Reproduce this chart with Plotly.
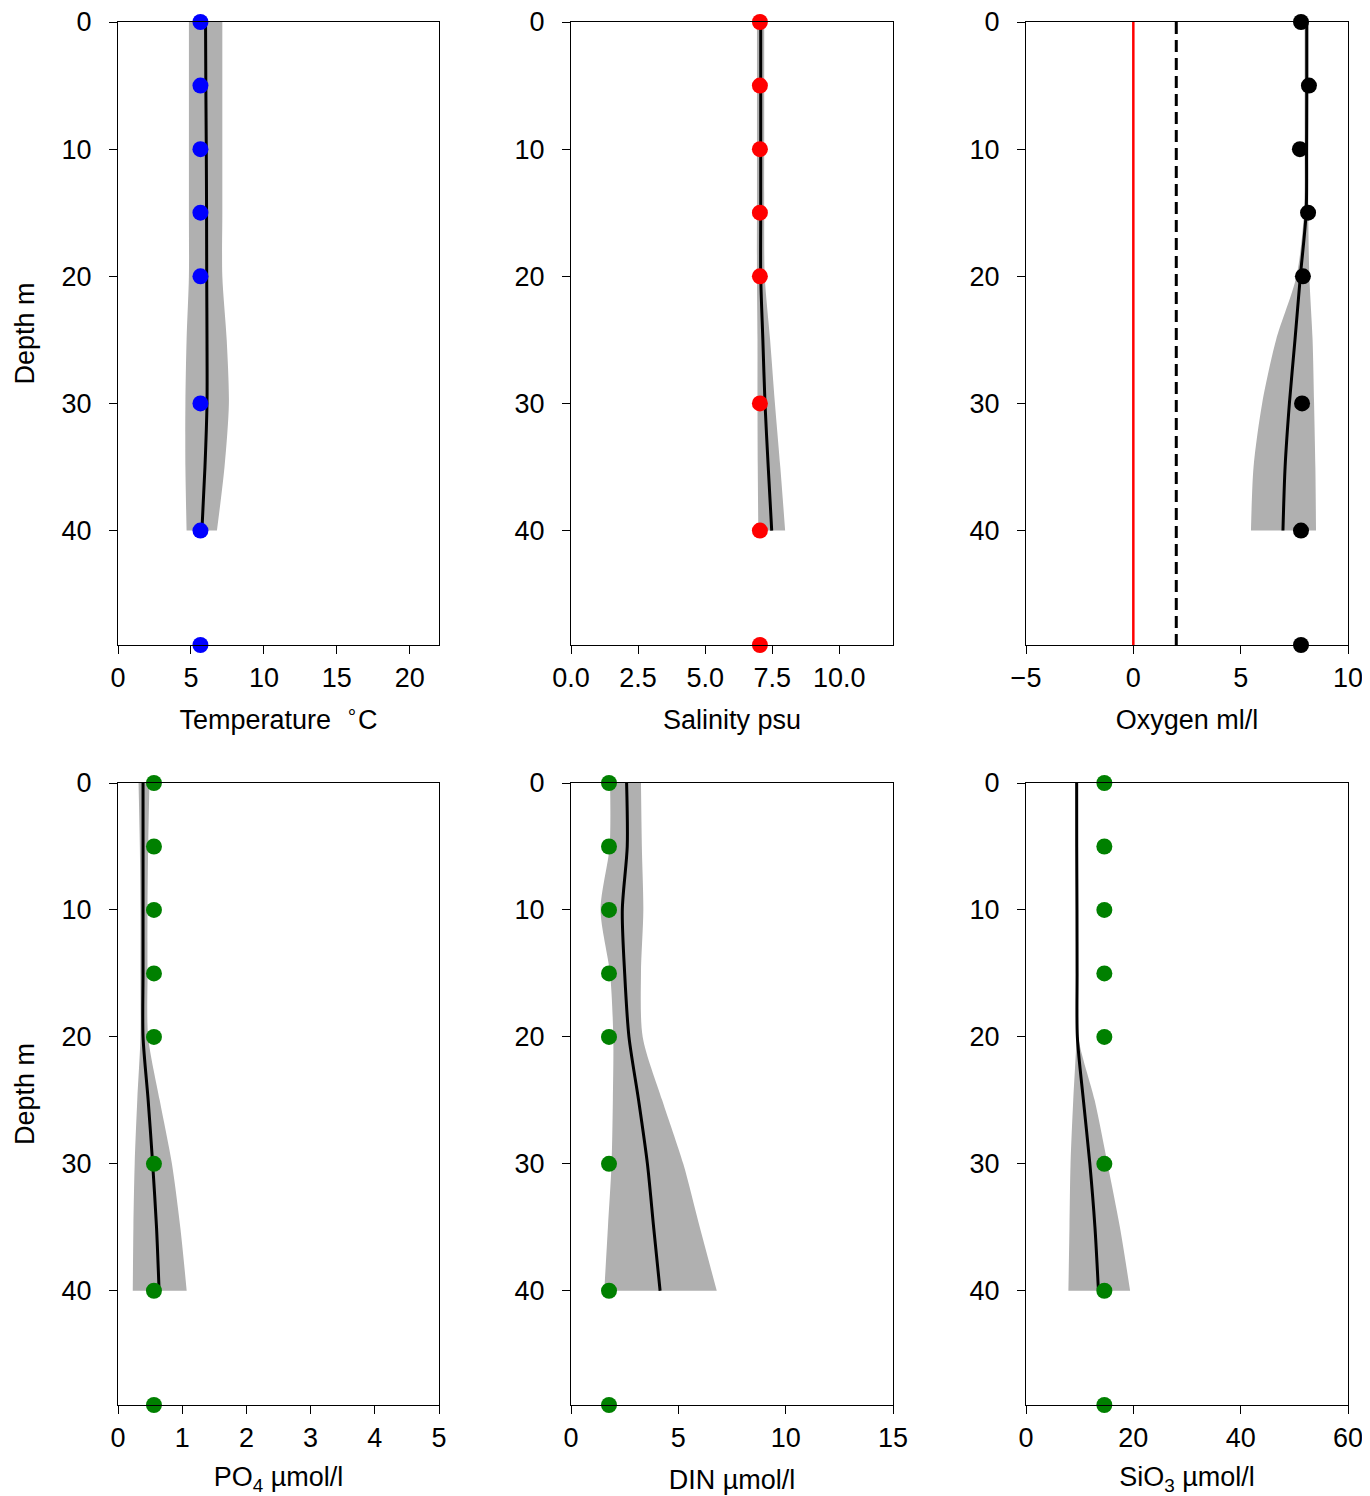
import plotly.graph_objects as go

# ---------------- data ----------------
depth_obs = [0, 5, 10, 15, 20, 30, 40, 49]
depth_mod = [0, 5, 10, 15, 20, 25, 30, 35, 40]

temp_obs = [5.65, 5.65, 5.65, 5.65, 5.65, 5.65, 5.65, 5.65]
temp_mod = [6.0, 6.02, 6.05, 6.07, 6.08, 6.1, 6.1, 5.96, 5.75]
temp_lo = [4.86, 4.86, 4.86, 4.86, 4.86, 4.7, 4.62, 4.62, 4.7]
temp_hi = [7.15, 7.15, 7.15, 7.15, 7.15, 7.45, 7.6, 7.3, 6.78]

sal_obs = [7.04, 7.04, 7.04, 7.04, 7.04, 7.04, 7.04, 7.04]
sal_mod = [7.07, 7.07, 7.07, 7.07, 7.07, 7.15, 7.23, 7.35, 7.48]
sal_lo = [6.93, 6.93, 6.93, 6.93, 6.93, 6.95, 6.95, 6.96, 6.98]
sal_hi = [7.2, 7.2, 7.2, 7.2, 7.22, 7.42, 7.6, 7.8, 7.98]

o2_obs = [7.81, 8.18, 7.76, 8.14, 7.9, 7.86, 7.81, 7.81]
o2_mod = [8.08, 8.08, 8.07, 8.05, 7.78, 7.53, 7.27, 7.07, 6.97]
o2_lo = [7.98, 7.98, 7.98, 7.95, 7.6, 6.65, 6.0, 5.6, 5.48]
o2_hi = [8.15, 8.15, 8.15, 8.15, 8.2, 8.35, 8.42, 8.48, 8.51]
o2_anoxic = [0, 0]
o2_hypoxic = [2, 2]
o2_line_depth = [0, 49]

po4_obs = [0.56, 0.56, 0.56, 0.56, 0.56, 0.56, 0.56, 0.56]
po4_mod = [0.39, 0.39, 0.39, 0.39, 0.39, 0.47, 0.54, 0.6, 0.64]
po4_lo = [0.32, 0.34, 0.35, 0.35, 0.35, 0.3, 0.26, 0.24, 0.23]
po4_hi = [0.49, 0.47, 0.46, 0.46, 0.47, 0.65, 0.84, 0.97, 1.07]

din_obs = [1.77, 1.77, 1.77, 1.77, 1.77, 1.77, 1.77, 1.77]
din_mod = [2.59, 2.62, 2.39, 2.5, 2.7, 3.15, 3.56, 3.85, 4.15]
din_lo = [1.82, 1.8, 1.38, 1.82, 1.97, 1.95, 1.89, 1.72, 1.55]
din_hi = [3.26, 3.3, 3.37, 3.26, 3.34, 4.25, 5.23, 6.0, 6.79]

sio3_obs = [14.6, 14.6, 14.6, 14.6, 14.6, 14.6, 14.6, 14.6]
sio3_mod = [9.44, 9.45, 9.5, 9.52, 9.57, 10.7, 11.9, 12.85, 13.5]
sio3_lo = [9.3, 9.3, 9.3, 9.35, 9.4, 8.8, 8.3, 8.1, 7.9]
sio3_hi = [9.6, 9.6, 9.65, 9.7, 9.75, 12.8, 15.2, 17.5, 19.4]

panels = [
    dict(obs=temp_obs, mod=temp_mod, lo=temp_lo, hi=temp_hi, color="blue",
         title="Temperature  <sup>∘</sup>C", rng=[0, 22], dtick=5, fmt=""),
    dict(obs=sal_obs, mod=sal_mod, lo=sal_lo, hi=sal_hi, color="red",
         title="Salinity psu", rng=[0, 12], dtick=2.5, fmt=".1f"),
    dict(obs=o2_obs, mod=o2_mod, lo=o2_lo, hi=o2_hi, color="black",
         title="Oxygen ml/l", rng=[-5, 10], dtick=5, fmt=""),
    dict(obs=po4_obs, mod=po4_mod, lo=po4_lo, hi=po4_hi, color="green",
         title="PO<sub>4</sub> µmol/l", rng=[0, 5], dtick=1, fmt=""),
    dict(obs=din_obs, mod=din_mod, lo=din_lo, hi=din_hi, color="green",
         title="DIN µmol/l", rng=[0, 15], dtick=5, fmt=""),
    dict(obs=sio3_obs, mod=sio3_mod, lo=sio3_lo, hi=sio3_hi, color="green",
         title="SiO<sub>3</sub> µmol/l", rng=[0, 60], dtick=20, fmt=""),
]

# page body has an 8px margin: the figure starts at (8, 8) in the window
OFF = 8
W, H = 1370 - OFF, 1496 - OFF
col_px = [(118, 439), (571, 893), (1026, 1348)]
row_px = [(22, 645), (783, 1405)]
FONT = "Liberation Sans, Arial, sans-serif"
FS = 27

fig = go.Figure()
layout = dict(
    width=W, height=H, autosize=False,
    margin=dict(l=0, r=0, t=0, b=0, pad=0),
    paper_bgcolor="white", plot_bgcolor="white",
    showlegend=False,
    font=dict(family=FONT, size=FS, color="black"),
)

for i, p in enumerate(panels):
    r, c = divmod(i, 3)
    n = i + 1
    xa = "x" if n == 1 else f"x{n}"
    ya = "y" if n == 1 else f"y{n}"
    # uncertainty band
    fig.add_trace(go.Scatter(x=p["lo"], y=depth_mod, mode="lines",
                             line=dict(width=0, shape="spline", smoothing=0.8, color="#b0b0b0"),
                             xaxis=xa, yaxis=ya, hoverinfo="skip"))
    fig.add_trace(go.Scatter(x=p["hi"], y=depth_mod, mode="lines", fill="tonextx",
                             fillcolor="#b0b0b0",
                             line=dict(width=0, shape="spline", smoothing=0.8, color="#b0b0b0"),
                             xaxis=xa, yaxis=ya, hoverinfo="skip"))
    if i == 2:
        fig.add_trace(go.Scatter(x=o2_anoxic, y=o2_line_depth, mode="lines",
                                 line=dict(color="red", width=2.5),
                                 xaxis=xa, yaxis=ya))
        fig.add_trace(go.Scatter(x=o2_hypoxic, y=o2_line_depth, mode="lines",
                                 line=dict(color="black", width=3, dash="12px,6px"),
                                 xaxis=xa, yaxis=ya))
    fig.add_trace(go.Scatter(x=p["mod"], y=depth_mod, mode="lines",
                             line=dict(color="black", width=3, shape="spline", smoothing=0.8),
                             xaxis=xa, yaxis=ya))
    fig.add_trace(go.Scatter(x=p["obs"], y=depth_obs, mode="markers",
                             marker=dict(color=p["color"], size=16, line=dict(width=0)),
                             xaxis=xa, yaxis=ya, cliponaxis=False))

    x0, x1 = (v - OFF for v in col_px[c])
    y0, y1 = (v - OFF for v in row_px[r])
    xkey = "xaxis" if n == 1 else f"xaxis{n}"
    ykey = "yaxis" if n == 1 else f"yaxis{n}"
    layout[xkey] = dict(
        domain=[x0 / W, x1 / W], anchor=ya, range=p["rng"], dtick=p["dtick"],
        tick0=0, tickformat=p["fmt"], ticks="outside", ticklen=8, tickwidth=1.3,
        tickcolor="black", showline=True, mirror=True, linecolor="black", linewidth=1.3,
        showgrid=False, zeroline=False, ticklabelstandoff=0, automargin=False,
        ticklabeloverflow="allow",
        tickfont=dict(family=FONT, size=FS, color="black"),
        title=dict(text=p["title"], standoff=18, font=dict(family=FONT, size=FS, color="black")),
    )
    ydict = dict(
        domain=[1 - y1 / H, 1 - y0 / H], anchor=xa, range=[49, 0], dtick=10, tick0=0,
        ticks="outside", ticklen=8, tickwidth=1.3, tickcolor="black",
        showline=True, mirror=True, linecolor="black", linewidth=1.3,
        showgrid=False, zeroline=False, ticklabelstandoff=12, automargin=False,
        ticklabeloverflow="allow",
        tickfont=dict(family=FONT, size=FS, color="black"),
    )
    if c == 0:
        ydict["title"] = dict(text="Depth m", standoff=18,
                              font=dict(family=FONT, size=FS, color="black"))
    layout[ykey] = ydict

fig.update_layout(**layout)
fig.write_html("out.html")
